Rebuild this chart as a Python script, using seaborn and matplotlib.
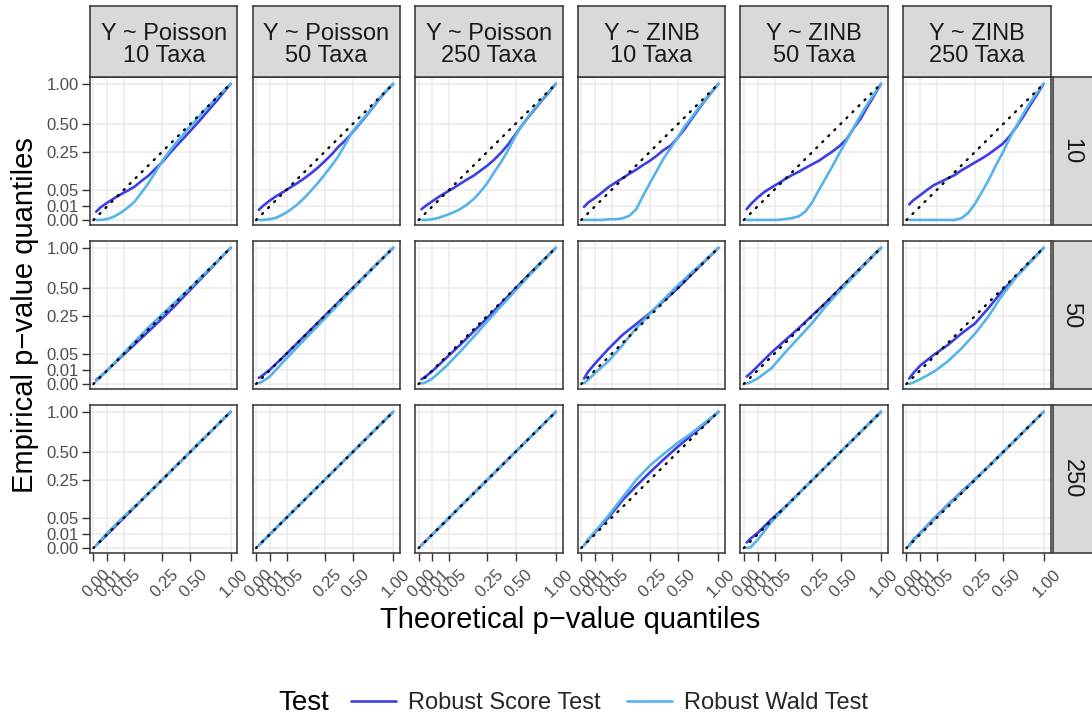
import numpy as np
import pandas as pd
import matplotlib
matplotlib.use("Agg")
import matplotlib.pyplot as plt
import matplotlib.transforms as mtransforms
import seaborn as sns
from matplotlib.lines import Line2D

sns.set_theme(style="white")
plt.rcParams['font.family'] = ['Liberation Sans', 'DejaVu Sans']

# ---------------- data ----------------
# theoretical quantile grids (finer grid for the curved top row)
theo_q_fine = [0.0004, 0.0025, 0.01, 0.0225, 0.04, 0.0625, 0.09, 0.1225, 0.16, 0.2025, 0.25,
               0.3025, 0.36, 0.4225, 0.49, 0.5625, 0.64, 0.7225, 0.81, 0.9025, 1.0]
theo_q = [0.0004, 0.0025, 0.01, 0.04, 0.09, 0.16, 0.25, 0.36, 0.49, 0.64, 0.81, 1.0]
tick_vals = [0.0, 0.01, 0.05, 0.25, 0.5, 1.0]
tick_labels = ["0.00", "0.01", "0.05", "0.25", "0.50", "1.00"]
col_labels = ["Y ~ Poisson\n10 Taxa", "Y ~ Poisson\n50 Taxa", "Y ~ Poisson\n250 Taxa",
              "Y ~ ZINB\n10 Taxa", "Y ~ ZINB\n50 Taxa", "Y ~ ZINB\n250 Taxa"]
row_labels = ["10", "50", "250"]
tests = ["Robust Score Test", "Robust Wald Test"]
test_colors = ["#3B3FE5", "#56B4E9"]
ref_line = [0.0, 1.0]

# row "10" (fine grid)
score_n10_pois10 = [.0037, .0083, .0161, .0253, .0357, .0467, .060, .0824, .105, .1406, .1798,
                    .2333, .2905, .3516, .4186, .4942, .5776, .6708, .7691, .8817, 1]
wald_n10_pois10 = [0, 0, .00005, .0006, .0029, .0083, .0182, .0404, .0729, .1211, .1858,
                   .25, .3181, .3881, .4638, .5402, .6273, .7157, .81, .9044, 1]
score_n10_pois50 = [.0055, .0106, .0204, .0313, .0428, .0571, .0734, .093, .117, .1475, .1858,
                    .2304, .2884, .3411, .4096, .49, .5791, .6806, .7903, .8987, 1]
wald_n10_pois50 = [0, 0, .00003, .0003, .0018, .0055, .0128, .0256, .0458, .0734, .1109,
                   .1592, .219, .308, .416, .4998, .5898, .6889, .7992, .8987, 1]
score_n10_pois250 = [.0062, .0106, .019, .0296, .0408, .0538, .0697, .0876, .1056, .131, .1592,
                     .1962, .243, .3047, .3856, .4761, .5715, .6691, .7744, .8798, 1]
wald_n10_pois250 = [0, 0, .00003, .0003, .0012, .0029, .0062, .0123, .0234, .0428, .0734,
                    .1225, .1798, .2601, .3697, .4761, .5791, .6806, .7868, .8892, 1]
score_n10_zinb10 = [.0092, .0164, .0262, .0404, .059, .0756, .0942, .1149, .1362, .1624, .1892,
                    .2228, .2642, .297, .36, .4396, .5402, .6496, .7656, .8817, 1]
wald_n10_zinb10 = [0, 0, 0, 0, .00003, .00003, .00015, .0009, .0062, .0313, .0729,
                   .1303, .2043, .2767, .36, .4638, .558, .6659, .7779, .8892, 1]
score_n10_zinb50 = [.0062, .0135, .0272, .0424, .0566, .0718, .09, .1082, .1253, .1467, .1681,
                    .191, .2228, .256, .297, .354, .4529, .5506, .6889, .8354, 1]
wald_n10_zinb50 = [0, 0, 0, 0, 0, 0, .00005, .0002, .0007, .0041, .0177,
                   .0511, .0986, .1624, .247, .3422, .4597, .5883, .7225, .8575, 1]
score_n10_zinb250 = [.0132, .021, .0331, .0488, .0655, .0784, .093, .1082, .1325, .1544, .1789,
                     .2043, .2343, .2714, .3114, .3745, .4638, .573, .7056, .8446, 1]
wald_n10_zinb250 = [0, 0, 0, 0, 0, 0, 0, 0, .00015, .0027, .0144,
                    .0424, .087, .1584, .2411, .354, .4733, .6022, .7396, .8724, 1]

# row "50"
score_n50_pois10 = [.0009, .003, .01, .0388, .0841, .1482, .2304, .3364, .4692, .6241, .801, 1]
wald_n50_pois10 = [.0004, .0025, .01, .042, .0961, .1722, .2601, .366, .49, .64, .81, 1]
score_n50_pois50 = [.002, .0042, .011, .04, .09, .16, .25, .36, .49, .64, .81, 1]
wald_n50_pois50 = [.00003, .0004, .003, .0272, .0729, .1406, .2304, .3422, .4761, .632, .81, 1]
score_n50_pois250 = [.0012, .003, .009, .0361, .0812, .1482, .2352, .3481, .483, .64, .81, 1]
wald_n50_pois250 = [.00001, .00014, .0016, .0169, .0552, .119, .2116, .3249, .4624, .6241, .801, 1]
score_n50_zinb10 = [.0016, .0081, .0225, .0676, .1296, .1936, .2704, .3721, .49, .64, .81, 1]
wald_n50_zinb10 = [.00003, .0009, .0064, .0289, .0812, .1681, .2652, .3844, .5184, .6642, .819, 1]
score_n50_zinb50 = [.003, .0064, .0169, .0529, .1024, .1681, .255, .36, .49, .64, .81, 1]
wald_n50_zinb50 = [.00001, .0002, .0016, .0132, .0529, .1156, .2025, .3306, .4692, .6241, .801, 1]
score_n50_zinb250 = [.0016, .0064, .0182, .0462, .0812, .1369, .198, .3136, .4692, .6241, .801, 1]
wald_n50_zinb250 = [0, .00014, .0012, .0081, .0272, .0676, .1369, .25, .429, .6162, .7921, 1]

# row "250"
score_n250_pois10 = [.0004, .0025, .01, .04, .09, .16, .25, .36, .49, .64, .81, 1]
wald_n250_pois10 = [.0004, .003, .0121, .0441, .093, .16, .25, .36, .49, .64, .81, 1]
score_n250_pois50 = [.0004, .0025, .01, .04, .09, .16, .25, .36, .49, .64, .81, 1]
wald_n250_pois50 = [.0003, .0023, .0095, .039, .089, .159, .249, .36, .49, .64, .81, 1]
score_n250_pois250 = [.0004, .0025, .0098, .0395, .09, .16, .25, .36, .49, .64, .81, 1]
wald_n250_pois250 = [.0003, .0024, .01, .0405, .091, .161, .251, .361, .49, .64, .81, 1]
score_n250_zinb10 = [.0004, .0036, .0132, .0506, .1225, .207, .308, .4225, .5476, .6806, .828, 1]
wald_n250_zinb10 = [.0004, .0036, .0144, .0576, .1369, .25, .366, .4761, .5929, .7056, .8464, 1]
score_n250_zinb50 = [.0016, .0049, .0121, .0441, .09, .16, .25, .36, .49, .64, .81, 1]
wald_n250_zinb50 = [0, .00003, .0036, .0361, .087, .156, .25, .36, .49, .64, .81, 1]
score_n250_zinb250 = [.0004, .0036, .0121, .0462, .0992, .1681, .255, .36, .49, .64, .81, 1]
wald_n250_zinb250 = [.0002, .003, .011, .0441, .0961, .164, .25, .36, .49, .64, .81, 1]

row_grids = [theo_q_fine, theo_q, theo_q]
panels = [
    [(score_n10_pois10, wald_n10_pois10), (score_n10_pois50, wald_n10_pois50),
     (score_n10_pois250, wald_n10_pois250), (score_n10_zinb10, wald_n10_zinb10),
     (score_n10_zinb50, wald_n10_zinb50), (score_n10_zinb250, wald_n10_zinb250)],
    [(score_n50_pois10, wald_n50_pois10), (score_n50_pois50, wald_n50_pois50),
     (score_n50_pois250, wald_n50_pois250), (score_n50_zinb10, wald_n50_zinb10),
     (score_n50_zinb50, wald_n50_zinb50), (score_n50_zinb250, wald_n50_zinb250)],
    [(score_n250_pois10, wald_n250_pois10), (score_n250_pois50, wald_n250_pois50),
     (score_n250_pois250, wald_n250_pois250), (score_n250_zinb10, wald_n250_zinb10),
     (score_n250_zinb50, wald_n250_zinb50), (score_n250_zinb250, wald_n250_zinb250)],
]

# ---------------- figure ----------------
W, H = 1092, 718
fig, axes = plt.subplots(3, 6, figsize=(W / 100, H / 100), dpi=100)
fig.patch.set_facecolor("white")
fig.subplots_adjust(left=90 / W, right=1050.5 / W, top=1 - 77 / H, bottom=1 - 553 / H,
                    wspace=0.1024, hspace=0.108)


def fwd(x):
    x = np.asarray(x, dtype=float)
    return np.sign(x) * np.sqrt(np.abs(x))


def inv(y):
    y = np.asarray(y, dtype=float)
    return np.sign(y) * y ** 2


grey20 = "#333333"
palette = dict(zip(tests, test_colors))
label_offset = mtransforms.ScaledTranslation(9 / 100, -3 / 100, fig.dpi_scale_trans)

for r in range(3):
    grid = row_grids[r]
    for c in range(6):
        ax = axes[r, c]
        sc, wd = panels[r][c]
        df = pd.DataFrame({
            "theoretical": list(grid) * 2,
            "empirical": list(sc) + list(wd),
            "Test": [tests[0]] * len(grid) + [tests[1]] * len(grid),
        })
        ax.set_xscale("function", functions=(fwd, inv))
        ax.set_yscale("function", functions=(fwd, inv))
        sns.lineplot(data=df, x="theoretical", y="empirical", hue="Test",
                     hue_order=tests, palette=palette, estimator=None,
                     linewidth=1.9, legend=False, ax=ax, zorder=3)
        ax.plot(ref_line, ref_line, color="black", lw=1.7,
                ls=(0, (0.5, 3.1)), dash_capstyle="round", zorder=4)
        ax.set_xlim(-0.00065, 1.1025)
        ax.set_ylim(-0.00137, 1.1025)
        ax.set_xticks(tick_vals)
        ax.set_yticks(tick_vals)
        ax.set_xticklabels(tick_labels)
        ax.set_yticklabels(tick_labels)
        ax.set_xlabel("")
        ax.set_ylabel("")
        ax.set_facecolor("white")
        ax.grid(True, color="#EBEBEB", lw=1.1)
        ax.set_axisbelow(True)
        for sp in ax.spines.values():
            sp.set_visible(True)
            sp.set_color(grey20)
            sp.set_linewidth(1.1)
        ax.tick_params(axis="both", which="major", length=5.5, width=1.0,
                       color=grey20, labelcolor="#4D4D4D", labelsize=12, pad=2.5)
        ax.tick_params(axis="both", which="minor", length=0)
        ax.tick_params(axis="y", left=(c == 0), labelleft=(c == 0))
        ax.tick_params(axis="x", bottom=(r == 2), labelbottom=(r == 2))
        if r == 2:
            for lab in ax.get_xticklabels():
                lab.set_rotation(45)
                lab.set_ha("right")
                lab.set_va("top")
                lab.set_rotation_mode("anchor")
                lab.set_transform(lab.get_transform() + label_offset)

# strips on top
for c in range(6):
    pos = axes[0, c].get_position()
    sax = fig.add_axes([pos.x0, pos.y1, pos.width, 71 / H])
    sax.set_facecolor("#D9D9D9")
    sax.set_xticks([])
    sax.set_yticks([])
    for sp in sax.spines.values():
        sp.set_visible(True)
        sp.set_color(grey20)
        sp.set_linewidth(1.1)
    sax.text(0.5, 0.45, col_labels[c], ha="center", va="center", fontsize=17,
             color="#1A1A1A", linespacing=1.0, transform=sax.transAxes)

# strips on right
for r in range(3):
    pos = axes[r, 5].get_position()
    sax = fig.add_axes([pos.x1 + 2 / W, pos.y0, 42 / W, pos.height])
    sax.set_facecolor("#D9D9D9")
    sax.set_xticks([])
    sax.set_yticks([])
    for sp in sax.spines.values():
        sp.set_visible(True)
        sp.set_color(grey20)
        sp.set_linewidth(1.1)
    sax.text(0.45, 0.5, row_labels[r], ha="center", va="center", fontsize=17,
             color="#1A1A1A", rotation=-90, transform=sax.transAxes)

# axis titles
fig.text(570 / W, 1 - 620 / H, "Theoretical p\u2212value quantiles", ha="center",
         va="center", fontsize=21, color="black")
fig.text(25 / W, 1 - 315 / H, "Empirical p\u2212value quantiles", ha="center",
         va="center", fontsize=21, color="black", rotation=90)

# legend
fig.text(278 / W, 1 - 703 / H, "Test", ha="left", va="center", fontsize=20, color="black")
handles = [Line2D([0], [0], color=col, lw=1.9) for col in test_colors]
fig.legend(handles, tests, loc="center left", bbox_to_anchor=(351 / W, 1 - 703 / H),
           ncol=2, frameon=False, fontsize=17, handlelength=1.9, handletextpad=0.5,
           columnspacing=1.15, borderpad=0, borderaxespad=0)

fig.savefig("out.png", dpi=100, facecolor="white")
